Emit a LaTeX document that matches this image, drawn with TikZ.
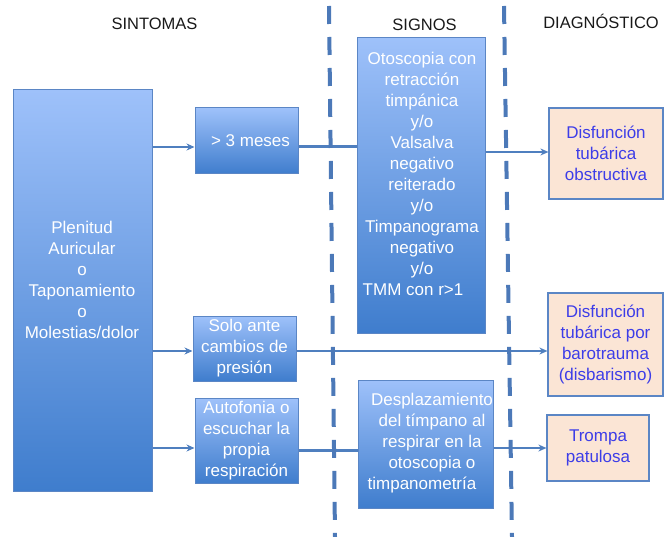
\documentclass[tikz,border=0pt]{standalone}
\usepackage{fontspec}
\setmainfont{Liberation Sans}
\usepackage{xcolor}
\usetikzlibrary{arrows.meta}
\definecolor{boxtop}{HTML}{9EC1FA}
\definecolor{boxbot}{HTML}{3F7DCD}
\definecolor{edge}{HTML}{5B86C5}
\definecolor{linecol}{HTML}{4F7FBF}
\definecolor{dashcol}{HTML}{4C79B8}
\definecolor{peach}{HTML}{FBE5D5}
\definecolor{diagtext}{HTML}{3D3DE8}

\begin{document}
\begin{tikzpicture}[
    x=1pt,y=-1pt,
    txt/.style={font=\fontsize{17}{21}\selectfont,align=center},
    head/.style={font=\fontsize{16.5}{20}\selectfont,text=black!90},
    sbox/.style={draw=edge,line width=1pt,top color=boxtop,bottom color=boxbot,inner sep=0pt},
    wtxt/.style={txt,text=white},
    dbox/.style={draw=edge,line width=1.2pt,fill=peach,txt,text=diagtext,inner sep=0pt},
    arrow/.style={-{Stealth[length=8pt,width=7pt]},line width=1.6pt,draw=linecol},
    link/.style={line width=3pt,draw=linecol},
    divider/.style={dash pattern=on 18pt off 13pt,line width=4pt,draw=dashcol}
  ]
    \useasboundingbox (0,0) rectangle (666,537);
    % column headers
    \node[head] (hsint) at (154.5,24) {SINTOMAS};
    \node[head] (hsig) at (424.5,25) {SIGNOS};
    \node[head] (hdiag) at (601,21.5) {DIAGNÓSTICO};
    % symptoms
    \node[sbox,minimum width=139pt,minimum height=401pt] (plen) at (82.5,290.5) {};
    \node[wtxt] (plentxt) at (82,280) {Plenitud\\Auricular\\o\\Taponamiento\\o\\Molestias/dolor};
    \node[sbox,wtxt,minimum width=103pt,minimum height=66pt] (meses) at (246.5,141) {\hspace*{8pt}> 3 meses};
    \node[sbox,wtxt,minimum width=103pt,minimum height=65pt] (solo) at (244.5,348.5) {Solo ante\\cambios de\\presión};
    \node[sbox,wtxt,minimum width=103pt,minimum height=85pt] (auto) at (246.5,440.5) {Autofonia o\\escuchar la\\propia\\respiración};
    % signs
    \node[sbox,minimum width=128pt,minimum height=295pt] (ots) at (421,185.5) {};
    \node[wtxt] (otstxt) at (422,173.5) {Otoscopia con\\retracción\\timpánica\\y/o\\Valsalva\\negativo\\reiterado\\y/o\\Timpanograma\\negativo\\y/o\\TMM con r>1\hspace*{18pt}};
    \node[sbox,minimum width=135pt,minimum height=128pt] (des) at (425.5,444) {};
    \node[wtxt] (destxt) at (432,443.5) {Desplazamiento\\del tímpano al\\respirar en la\\otoscopia o\\timpanometría\hspace*{20pt}};
    % diagnosis
    \node[dbox,minimum width=114pt,minimum height=91pt] (dx1) at (606,153.5) {Disfunción\\tubárica\\obstructiva};
    \node[dbox,minimum width=115pt,minimum height=103pt] (dx2) at (605.5,344.5) {Disfunción\\tubárica por\\barotrauma\\(disbarismo)};
    \node[dbox,minimum width=102pt,minimum height=66pt] (dx3) at (598,448) {Trompa\\patulosa};
    % connectors
    \draw[arrow] (plen.east |- 0,147) -- (meses.west |- 0,147);
    \draw[link] (meses.east |- 0,147) -- (ots.west |- 0,147);
    \draw[arrow] (ots.east |- 0,152) -- (dx1.west |- 0,152);
    \draw[arrow] (plen.east |- 0,351) -- (solo.west |- 0,351);
    \draw[arrow] (solo.east |- 0,351) -- (dx2.west |- 0,351);
    \draw[arrow] (plen.east |- 0,448) -- (auto.west |- 0,448);
    \draw[link] (auto.east |- 0,450) -- (des.west |- 0,450);
    \draw[arrow] (des.east |- 0,448) -- (dx3.west |- 0,448);
    % column dividers
    \draw[divider] (329,6) -- (335,537);
    \draw[divider] (504,6) -- (512,537);
  \end{tikzpicture}
\end{document}
